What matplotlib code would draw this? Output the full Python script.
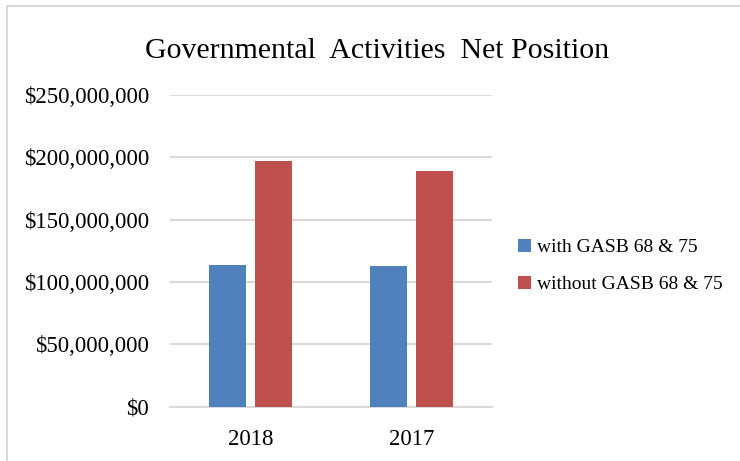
import numpy as np
import matplotlib.pyplot as plt
from matplotlib.lines import Line2D
from matplotlib.ticker import FuncFormatter

# Net position by fiscal year, in dollars
years = ['2018', '2017']
with_gasb = [114000000, 112500000]
without_gasb = [197000000, 189000000]
series_labels = ['with GASB 68 & 75', 'without GASB 68 & 75']

plt.rcParams['font.family'] = ['Liberation Serif', 'DejaVu Serif']

fig = plt.figure(figsize=(7.4, 4.61), dpi=100)
ax = fig.add_axes([0.2297, 0.1178, 0.4353, 0.6762])

x = np.arange(len(years))
w = 0.227
off = 0.143
ax.bar(x - off, with_gasb, w, color='#4F81BD', label=series_labels[0], zorder=3)
ax.bar(x + off, without_gasb, w, color='#C0504D', label=series_labels[1], zorder=3)

ax.set_xlim(-0.5, 1.5)
ax.set_ylim(0, 250000000)
ax.set_yticks(np.arange(0, 250000001, 50000000))
ax.yaxis.set_major_formatter(FuncFormatter(lambda v, p: '${:,.0f}'.format(v)))
ax.set_xticks(x)
ax.set_xticklabels(years)

ax.grid(axis='y', color='#d9d9d9', linewidth=1.5, zorder=0)
for s in ['top', 'right', 'left']:
    ax.spines[s].set_visible(False)
ax.spines['bottom'].set_color('#d9d9d9')
ax.spines['bottom'].set_linewidth(1.5)
ax.tick_params(axis='both', length=0, labelsize=16.5)
ax.tick_params(axis='y', pad=15)
ax.tick_params(axis='x', pad=16)

fig.text(0.51, 0.889, 'Governmental  Activities  Net Position', ha='center', va='center',
         fontsize=21.5)

fig.legend(loc='center left', bbox_to_anchor=(0.676, 0.423), frameon=False, fontsize=14,
           handlelength=0.7, handleheight=0.7, handletextpad=0.3, labelspacing=1.0)

# chart border (top and left edges)
fig.add_artist(Line2D([7 / 740, 1], [1 - 6.5 / 461] * 2, transform=fig.transFigure,
                      color='#d9d9d9', linewidth=1.5))
fig.add_artist(Line2D([7 / 740] * 2, [0, 1 - 6.5 / 461], transform=fig.transFigure,
                      color='#d9d9d9', linewidth=1.5))

fig.savefig('out.png', dpi=100)
